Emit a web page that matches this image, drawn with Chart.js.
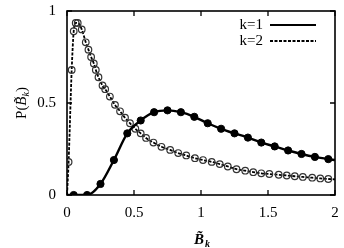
<!DOCTYPE html>
<html>
<head>
<meta charset="utf-8">
<script src="https://cdn.jsdelivr.net/npm/chart.js@4/dist/chart.umd.min.js"></script>
<style>
  html, body { margin: 0; padding: 0; background: #fff; }
  #wrap { width: 344px; height: 248px; }
</style>
</head>
<body>
<div id="wrap"><canvas id="myChart" width="344" height="248"></canvas></div>
<script>
// k=1 (filled circles, solid line)
const k1X = [0, 0.05, 0.15, 0.25, 0.35, 0.45, 0.55, 0.65, 0.75, 0.85, 0.95, 1.05, 1.15, 1.25, 1.35, 1.45, 1.55, 1.65, 1.75, 1.85, 1.95, 2];
const k1Y = [0, 0, 0, 0.06, 0.19, 0.335, 0.405, 0.45, 0.46, 0.45, 0.425, 0.39, 0.36, 0.335, 0.312, 0.285, 0.264, 0.242, 0.223, 0.207, 0.195, 0.19];

// k=2 (open circles, dashed line)
const k2X = [0, 0.012, 0.035, 0.05, 0.065, 0.08, 0.11, 0.14, 0.16, 0.18, 0.2, 0.215, 0.235, 0.265, 0.285, 0.32, 0.358, 0.396, 0.433, 0.47, 0.51, 0.55, 0.59, 0.645, 0.705, 0.77, 0.83, 0.89, 0.955, 1.015, 1.08, 1.14, 1.2, 1.265, 1.33, 1.39, 1.45, 1.51, 1.58, 1.64, 1.7, 1.76, 1.83, 1.89, 1.95, 2];
const k2Y = [0, 0.18, 0.68, 0.89, 0.935, 0.935, 0.9, 0.83, 0.79, 0.75, 0.715, 0.68, 0.64, 0.595, 0.575, 0.535, 0.49, 0.455, 0.42, 0.39, 0.36, 0.335, 0.31, 0.285, 0.262, 0.245, 0.228, 0.215, 0.2, 0.19, 0.18, 0.168, 0.155, 0.14, 0.132, 0.124, 0.118, 0.114, 0.11, 0.106, 0.102, 0.098, 0.094, 0.09, 0.087, 0.085];

const xTicks = [0, 0.5, 1, 1.5, 2];
const yTicks = [0, 0.5, 1];
const legendLabels = ['k=1', 'k=2'];

const SERIF = '"Liberation Serif", "DejaVu Serif", serif';

const toPts = (xs, ys) => xs.map((x, i) => ({x: x, y: ys[i]}));
const endsHidden = (r) => (ctx) => {
    const n = ctx.dataset.data.length;
    return (ctx.dataIndex === 0 || ctx.dataIndex === n - 1) ? 0 : r;
};

// frame, inward ticks, legend and axis titles
const decor = {
    id: 'decor',
    afterDatasetsDraw(chart) {
        const c = chart.ctx;
        const a = chart.chartArea;
        const xs = chart.scales.x, ys = chart.scales.y;
        c.save();
        c.strokeStyle = '#000';
        c.lineWidth = 1.6;
        c.strokeRect(a.left, a.top, a.right - a.left, a.bottom - a.top);
        c.lineWidth = 1.3;
        const tl = 5;
        c.beginPath();
        xTicks.forEach(v => {
            const px = xs.getPixelForValue(v);
            c.moveTo(px, a.bottom); c.lineTo(px, a.bottom - tl);
            c.moveTo(px, a.top); c.lineTo(px, a.top + tl);
        });
        yTicks.forEach(v => {
            const py = ys.getPixelForValue(v);
            c.moveTo(a.left, py); c.lineTo(a.left + tl, py);
            c.moveTo(a.right, py); c.lineTo(a.right - tl, py);
        });
        c.stroke();

        // legend
        c.fillStyle = '#000';
        c.font = '15px ' + SERIF;
        c.textAlign = 'right';
        c.textBaseline = 'middle';
        const lx = 263, ly = [25, 41];
        legendLabels.forEach((t, i) => {
            c.fillText(t, lx, ly[i]);
            c.beginPath();
            c.lineWidth = i === 0 ? 2.2 : 1.8;
            c.setLineDash(i === 0 ? [] : [3, 1.5]);
            c.moveTo(270, ly[i]); c.lineTo(316, ly[i]);
            c.stroke();
        });
        c.setLineDash([]);

        // x axis title
        c.textAlign = 'left';
        c.textBaseline = 'alphabetic';
        c.font = 'italic bold 15px ' + SERIF;
        c.fillText('B\u0303', 194, 244);
        c.font = 'italic bold 10px ' + SERIF;
        c.fillText('k', 205, 247);

        // y axis title
        c.save();
        c.translate(21, (a.top + a.bottom) / 2);
        c.rotate(-Math.PI / 2);
        c.textAlign = 'left';
        let w = 0;
        const parts = [['P(', '15px ' + SERIF, 0], ['B\u0303', 'italic 15px ' + SERIF, 0], ['k', 'italic 10px ' + SERIF, 3], [')', '15px ' + SERIF, 0]];
        parts.forEach(p => { c.font = p[1]; w += c.measureText(p[0]).width; });
        let x0 = -w / 2;
        parts.forEach(p => {
            c.font = p[1];
            c.fillText(p[0], x0, 5 + p[2]);
            x0 += c.measureText(p[0]).width;
        });
        c.restore();
        c.restore();
    }
};

new Chart(document.getElementById('myChart').getContext('2d'), {
    type: 'line',
    data: {
        datasets: [
            {
                label: legendLabels[0],
                data: toPts(k1X, k1Y),
                borderColor: '#000',
                borderWidth: 2.4,
                backgroundColor: '#000',
                pointBackgroundColor: '#000',
                pointBorderColor: '#000',
                pointRadius: endsHidden(3.6),
                pointBorderWidth: 1,
                cubicInterpolationMode: 'monotone',
                fill: false,
            },
            {
                label: legendLabels[1],
                data: toPts(k2X, k2Y),
                borderColor: '#000',
                borderWidth: 1.8,
                borderDash: [3, 1.5],
                pointBackgroundColor: 'rgba(255,255,255,0)',
                pointBorderColor: '#333',
                pointRadius: endsHidden(3.3),
                pointBorderWidth: 1.2,
                cubicInterpolationMode: 'monotone',
                fill: false,
            },
        ]
    },
    options: {
        responsive: false,
        animation: false,
        events: [],
        layout: {
            padding: {top: 11, right: 9, left: 0, bottom: 0}
        },
        plugins: {
            legend: {display: false},
            tooltip: {enabled: false},
        },
        scales: {
            x: {
                type: 'linear',
                min: 0,
                max: 2,
                afterFit: (s) => { s.height = 53; s.paddingLeft = 0; s.paddingRight = 0; },
                afterBuildTicks: (s) => { s.ticks = xTicks.map(v => ({value: v})); },
                grid: {display: false, drawTicks: false},
                border: {display: false},
                ticks: {
                    padding: 9,
                    color: '#000',
                    font: {family: SERIF, size: 15},
                    callback: (v) => String(v),
                },
            },
            y: {
                type: 'linear',
                min: 0,
                max: 1,
                afterFit: (s) => { s.width = 67; s.paddingTop = 0; s.paddingBottom = 0; },
                afterBuildTicks: (s) => { s.ticks = yTicks.map(v => ({value: v})); },
                grid: {display: false, drawTicks: false},
                border: {display: false},
                ticks: {
                    padding: 11,
                    color: '#000',
                    font: {family: SERIF, size: 15},
                    callback: (v) => String(v),
                },
            },
        },
    },
    plugins: [decor],
});
</script>
</body>
</html>
